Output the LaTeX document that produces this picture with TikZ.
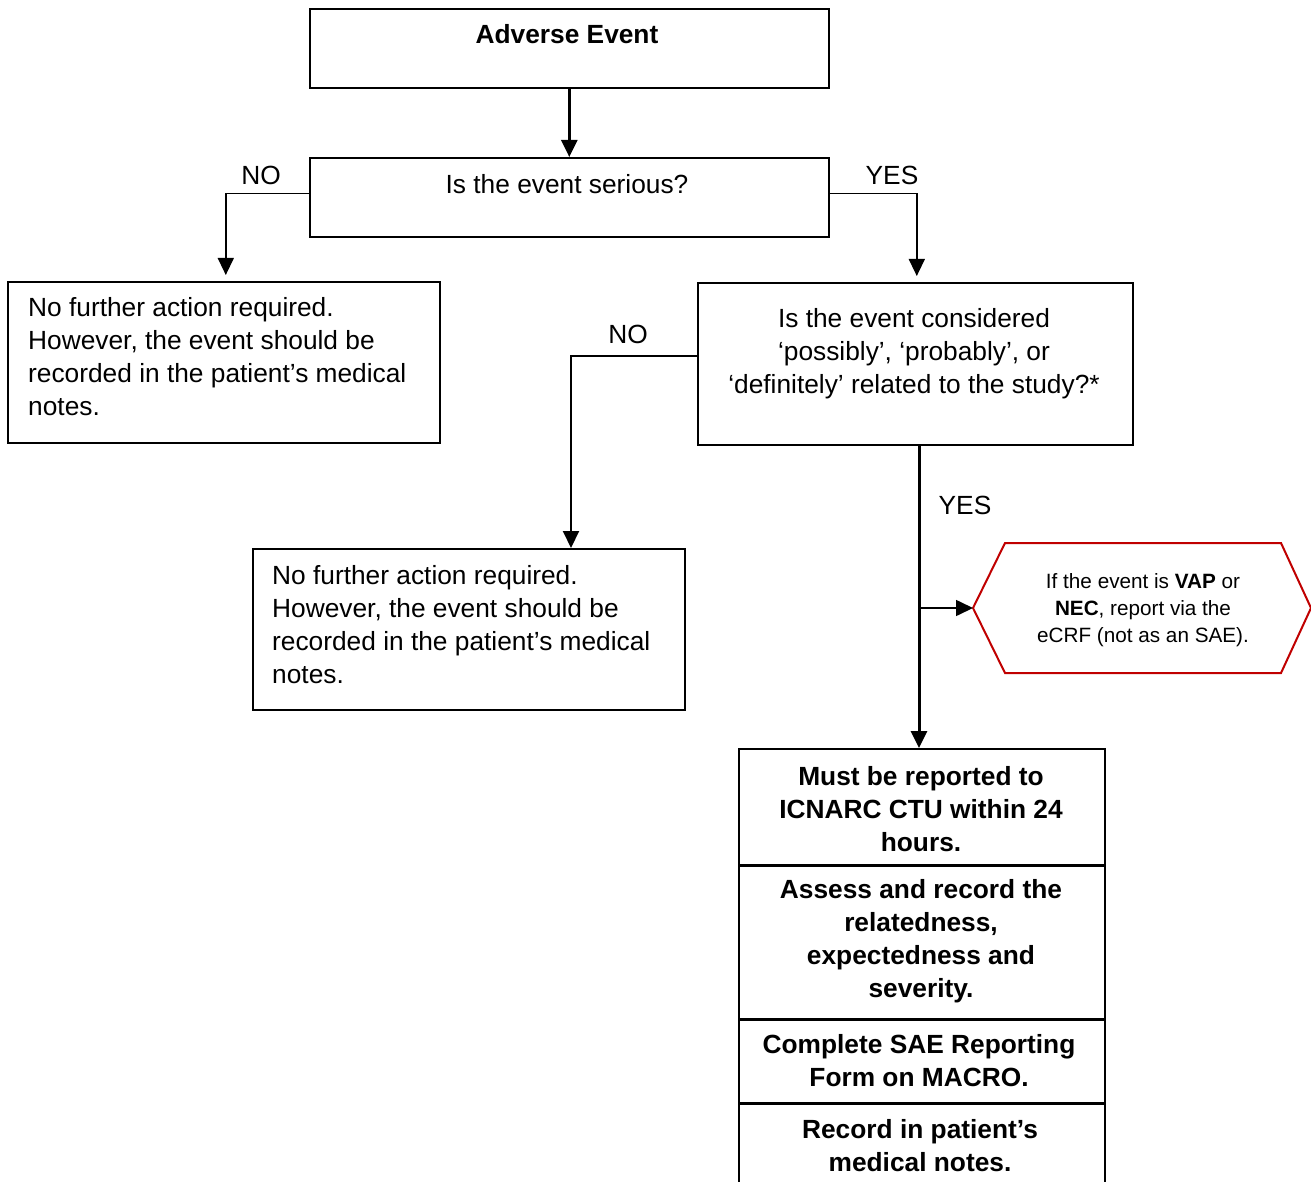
\documentclass[tikz,border=0pt]{standalone}
\usepackage{fontspec}
\setmainfont{Liberation Sans}
\usetikzlibrary{arrows.meta}
\definecolor{hexred}{RGB}{192,0,0}
\begin{document}
\begin{tikzpicture}[x=1pt,y=-1pt,
  box/.style={draw, line width=1.6pt, inner sep=0pt, anchor=north west},
  txt/.style={font=\fontsize{26.3}{33}\selectfont, inner sep=0pt, anchor=base},
  btxt/.style={font=\fontsize{26.3}{33}\selectfont\bfseries, inner sep=0pt, anchor=base, align=center},
  ltxt/.style={font=\fontsize{26.3}{33}\selectfont, inner sep=0pt, anchor=base west, align=left},
  ctxt/.style={font=\fontsize{26.3}{33}\selectfont, inner sep=0pt, anchor=base, align=center},
  htxt/.style={font=\fontsize{20.7}{27}\selectfont, inner sep=0pt, anchor=base, align=center},
  flow/.style={line width=2.2pt, -{Triangle[length=17pt,width=16pt]}},
  sep/.style={line width=3.6pt},
  hex/.style={draw=hexred, line width=2pt, line join=miter}
]
\useasboundingbox (0,0) rectangle (1311,1182);

% boxes
\node[box, minimum width=519pt, minimum height=79pt] (ae) at (309,8) {};
\node[box, minimum width=519pt, minimum height=79pt] (ser) at (309,157) {};
\node[box, minimum width=432pt, minimum height=161pt] (na1) at (7,281) {};
\node[box, minimum width=435pt, minimum height=162pt] (rel) at (697,282) {};
\node[box, minimum width=432pt, minimum height=161pt] (na2) at (252,548) {};
\node[box, minimum width=366pt, minimum height=116pt] (b1) at (738,748) {};
\node[box, minimum width=366pt, minimum height=154pt] (b2) at (738,864) {};
\node[box, minimum width=366pt, minimum height=84pt] (b3) at (738,1018) {};
\node[box, minimum width=366pt, minimum height=110pt] (b4) at (738,1102) {};
\draw[sep] (b1.south west) -- (b1.south east);
\draw[sep] (b2.south west) -- (b2.south east);
\draw[sep] (b3.south west) -- (b3.south east);

% texts (multi-line nodes are placed by the baseline of their last line)
\node[btxt] (aet) at (567,44) {Adverse Event};
\node[txt] (sert) at (567,194) {Is the event serious?};
\node[ltxt] (na1t) at (28,415) {No further action required.\\However, the event should be\\recorded in the patient’s medical\\notes.};
\node[ctxt] (relt) at (914,393) {Is the event considered\\‘possibly’, ‘probably’, or\\‘definitely’ related to the study?*};
\node[ltxt] (na2t) at (272,683) {No further action required.\\However, the event should be\\recorded in the patient’s medical\\notes.};
\node[btxt] (b1t) at (921,851.5) {Must be reported to\\ICNARC CTU within 24\\hours.};
\node[btxt] (b2t) at (921,997) {Assess and record the\\relatedness,\\expectedness and\\severity.};
\node[btxt] (b3t) at (919,1086) {Complete SAE Reporting\\Form on MACRO.};
\node[btxt] (b4t) at (920,1171) {Record in patient’s\\medical notes.};

% hexagon
\coordinate (hexL) at (973,608);
\draw[hex] (hexL) -- (1005,543) -- (1281,543) -- (1311,608) -- (1281,673) -- (1005,673) -- cycle;
\node[htxt] (hext) at (1143,642.5) {If the event is \textbf{VAP} or\\\textbf{NEC}, report via the\\eCRF (not as an SAE).};

% labels
\node[txt] (no1) at (261,185) {NO};
\node[txt] (yes1) at (892,185) {YES};
\node[txt] (no2) at (628,343) {NO};
\node[txt] (yes2) at (965,514) {YES};

% connectors
\coordinate (n2in) at (571,548);
\coordinate (tj) at (919,608);
\coordinate (tt) at (919,444);
\coordinate (tb) at (919,748);
\draw[flow, line width=2.4pt] (ae.south) -- (ser.north);
\draw[flow, line width=1.4pt, shorten >=6pt] ([yshift=3.5pt]ser.west) -| ([xshift=2pt]na1.north);
\draw[flow, line width=1.4pt, shorten >=6pt] ([yshift=3.5pt]ser.east) -| ([xshift=1.5pt]rel.north);
\draw[flow, line width=2pt] ([yshift=8pt]rel.west) -| (n2in);
\draw[flow, line width=3pt] (tt) -- (tb);
\draw[flow, line width=1.6pt] (tj) -- (hexL);
\end{tikzpicture}
\end{document}
